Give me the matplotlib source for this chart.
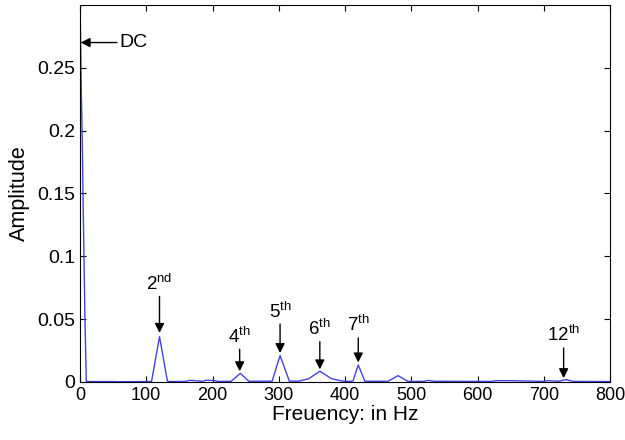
import matplotlib
matplotlib.use("Agg")
import matplotlib.pyplot as plt

# Spectre d'amplitude (valeurs relevées)
freq = [0, 1, 2, 3.5, 4.5, 6, 7.5, 9.5, 20, 50, 60, 100, 108, 120, 132, 140,
        160, 165, 175, 185, 190, 200, 210, 228, 242, 255, 290, 302, 316, 330,
        345, 362, 380, 395, 405, 412, 420, 430, 465, 480, 495, 520, 525, 535,
        620, 630, 650, 700, 705, 715, 722, 733, 745, 800]
amp = [0.30, 0.27, 0.23, 0.19, 0.15, 0.10, 0.05, 0.0004, 0.0003, 0.0003,
       0.0002, 0.0003, 0.0004, 0.036, 0.0004, 0.0003, 0.0004, 0.0012, 0.0010,
       0.0004, 0.0013, 0.0012, 0.0004, 0.0005, 0.0068, 0.0005, 0.0006, 0.021,
       0.0006, 0.0006, 0.0025, 0.0085, 0.0025, 0.0008, 0.0004, 0.0006, 0.0135,
       0.0005, 0.0005, 0.0050, 0.0004, 0.0005, 0.0012, 0.0005, 0.0004, 0.0010,
       0.0010, 0.0004, 0.0010, 0.0008, 0.0005, 0.0018, 0.0004, 0.0003]

# Harmoniques annotées : (texte, fréquence, pointe de flèche, départ du texte)
harm_labels = [r"2$^{\rm nd}$", r"4$^{\rm th}$", r"5$^{\rm th}$",
               r"6$^{\rm th}$", r"7$^{\rm th}$", r"12$^{\rm th}$"]
harm_freq = [120, 241, 302, 362, 420, 730]
harm_tip = [0.039, 0.0085, 0.023, 0.010, 0.0155, 0.0030]
harm_text = [0.068, 0.026, 0.046, 0.032, 0.035, 0.027]

plt.rcParams['font.family'] = ['Liberation Sans', 'DejaVu Sans']
plt.rcParams['mathtext.fontset'] = 'custom'
plt.rcParams['mathtext.rm'] = 'Liberation Sans'
plt.rcParams['mathtext.it'] = 'Liberation Sans:italic'

fig = plt.figure(figsize=(6.25, 4.4), dpi=100)
ax = fig.add_axes([0.128, 0.132, 0.848, 0.857])

ax.plot(freq, amp, color='#4343e0', linewidth=1.0)

ax.set_xlim(0, 800)
ax.set_ylim(0, 0.3)
ax.set_xticks([0, 100, 200, 300, 400, 500, 600, 700, 800])
ax.set_yticks([0, 0.05, 0.1, 0.15, 0.2, 0.25])
ax.set_yticklabels(['0', '0.05', '0.1', '0.15', '0.2', '0.25'])
ax.tick_params(direction='in', top=True, right=True, length=4, width=0.8)
ax.tick_params(axis='x', labelsize=13)
ax.tick_params(axis='y', labelsize=14)
for s in ax.spines.values():
    s.set_linewidth(0.8)

ax.set_xlabel("Freuency: in Hz", fontsize=15, labelpad=1)
ax.set_ylabel("Amplitude", fontsize=15.5, labelpad=5)

arrow = dict(arrowstyle='-|>', color='black', lw=1.0,
             mutation_scale=14, shrinkA=0, shrinkB=0)

ax.annotate("DC", xy=(1, 0.27), xytext=(60, 0.27), fontsize=14,
            va='center', ha='left', arrowprops=arrow)
for lab, f, tip, yt in zip(harm_labels, harm_freq, harm_tip, harm_text):
    ax.annotate("", xy=(f, tip), xytext=(f, yt), arrowprops=arrow)
    ax.text(f, yt + 0.002, lab, fontsize=13.5, ha='center', va='bottom')

fig.savefig("out.png", dpi=100)
